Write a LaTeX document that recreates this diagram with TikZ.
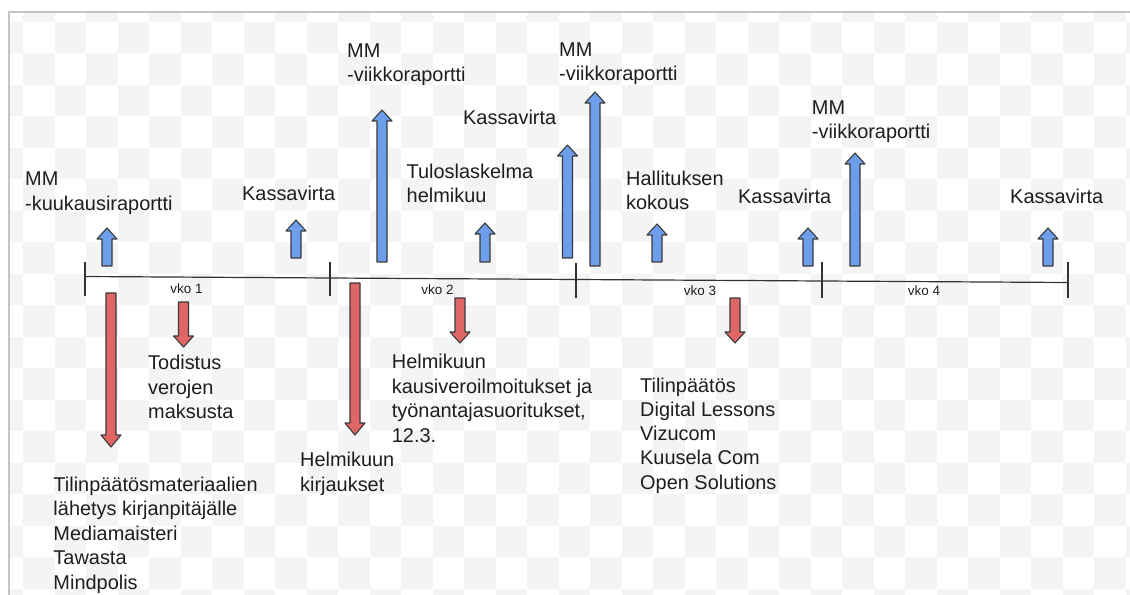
\documentclass[tikz,border=0pt]{standalone}
\usepackage{fontspec}
\setmainfont{Liberation Sans}
\definecolor{arrblue}{HTML}{6D9EEB}
\definecolor{arrred}{HTML}{E06666}
\definecolor{arredge}{HTML}{3A3A3A}
\definecolor{checkgray}{HTML}{F4F4F4}
\definecolor{framegray}{HTML}{C4C4C4}
\definecolor{inkcol}{HTML}{1E1E1E}
\tikzset{
  uparrow/.style={fill=arrblue, draw=arredge, line width=1.1bp, line join=round},
  downarrow/.style={fill=arrred, draw=arredge, line width=1.1bp, line join=round},
  txt/.style={anchor=base west, inner sep=0pt, align=left, text=inkcol, font=\fontsize{20}{24.7}\selectfont},
  weektxt/.style={anchor=base, inner sep=0pt, text=inkcol, font=\fontsize{13.5}{15}\selectfont},
  axisline/.style={draw=black!80, line width=1.2bp},
}
% style, x, tail y, tip y, head base y
\newcommand\blockarrow[5]{%
  \draw[#1] ({#2-5},#3) -- ({#2-5},#5) -- ({#2-10},#5) -- (#2,#4) -- ({#2+10},#5) -- ({#2+5},#5) -- ({#2+5},#3) -- cycle;}
\begin{document}
\begin{tikzpicture}[x=1bp,y=-1bp]
\useasboundingbox (0,0) rectangle (1130,595);
\fill[white] (0,0) rectangle (1130,595);
% checkered background
\begin{scope}
  \clip (9,12) rectangle (1130,595);
  \foreach \i in {-1,...,35} {
    \foreach \j in {-1,...,18} {
      \pgfmathtruncatemacro\cpar{mod(\i+\j+2,2)}
      \ifnum\cpar=1
        \fill[checkgray] ({-8.2+(\i+1)*31.5},{-9.8+(\j+1)*31.5}) rectangle ++(31.5,31.5);
      \fi
    }
  }
\end{scope}
\draw[framegray, line width=1.5bp] (9,595) -- (9,12) -- (1130,12);

% timeline
\coordinate (l0) at (85,276.5);
\coordinate (l4) at (1068,282.5);
\draw[axisline] (l0) -- (l4);
\coordinate (t0a) at (85,262);  \coordinate (t0b) at (85,296);
\coordinate (t1a) at (330,262); \coordinate (t1b) at (330,296);
\coordinate (t2a) at (576,263); \coordinate (t2b) at (576,298);
\coordinate (t3a) at (822,262); \coordinate (t3b) at (822,298);
\coordinate (t4a) at (1068,262); \coordinate (t4b) at (1068,298);
\draw[axisline] (t0a) -- (t0b);
\draw[axisline] (t1a) -- (t1b);
\draw[axisline] (t2a) -- (t2b);
\draw[axisline] (t3a) -- (t3b);
\draw[axisline] (t4a) -- (t4b);
\node[weektxt] (w1) at (186.5,294) {vko 1};
\node[weektxt] (w2) at (437.5,295) {vko 2};
\node[weektxt] (w3) at (700,295.7) {vko 3};
\node[weektxt] (w4) at (924,295.7) {vko 4};

% up arrows
\blockarrow{uparrow}{107}{266}{228}{239}
\blockarrow{uparrow}{296}{258}{220}{231}
\blockarrow{uparrow}{382}{262}{110}{121}
\blockarrow{uparrow}{485}{262}{223}{234}
\blockarrow{uparrow}{567.5}{258}{145}{156}
\blockarrow{uparrow}{595}{266}{92}{103}
\blockarrow{uparrow}{657}{262}{224}{235}
\blockarrow{uparrow}{808}{266}{228}{239}
\blockarrow{uparrow}{855}{266}{153}{164}
\blockarrow{uparrow}{1048}{266}{228}{239}

% down arrows
\blockarrow{downarrow}{111}{293}{447}{435}
\blockarrow{downarrow}{183.5}{302}{347}{336}
\blockarrow{downarrow}{355}{283}{435}{423}
\blockarrow{downarrow}{460}{298}{343}{332}
\blockarrow{downarrow}{735}{298}{343}{332}

% texts above (anchor = baseline of the last line)
\node[txt] (a1) at (25,210.4) {MM\\-kuukausiraportti};
\node[txt] (a2) at (242,200.7) {Kassavirta};
\node[txt] (a3) at (347,82) {MM\\-viikkoraportti};
\node[txt] (a4) at (463,125) {Kassavirta};
\node[txt] (a5) at (406.5,203) {Tuloslaskelma\\helmikuu};
\node[txt] (a6) at (559,80.7) {MM\\-viikkoraportti};
\node[txt] (a7) at (626,209.7) {Hallituksen\\kokous};
\node[txt] (a8) at (738,204) {Kassavirta};
\node[txt] (a9) at (811.7,139) {MM\\-viikkoraportti};
\node[txt] (a10) at (1010,204) {Kassavirta};

% texts below
\node[txt] (b1) at (148,418.7) {Todistus\\verojen\\maksusta};
\node[txt] (b2) at (53.3,589.5) {Tilinpäätösmateriaalien\\lähetys kirjanpitäjälle\\Mediamaisteri\\Tawasta\\Mindpolis};
\node[txt] (b3) at (300,491.4) {Helmikuun\\kirjaukset};
\node[txt] (b4) at (391.7,442.4) {Helmikuun\\kausiveroilmoitukset ja\\työnantajasuoritukset,\\12.3.};
\node[txt, font=\fontsize{20}{24.3}\selectfont] (b5) at (640,489) {Tilinpäätös\\Digital Lessons\\Vizucom\\Kuusela Com\\Open Solutions};
\end{tikzpicture}
\end{document}
